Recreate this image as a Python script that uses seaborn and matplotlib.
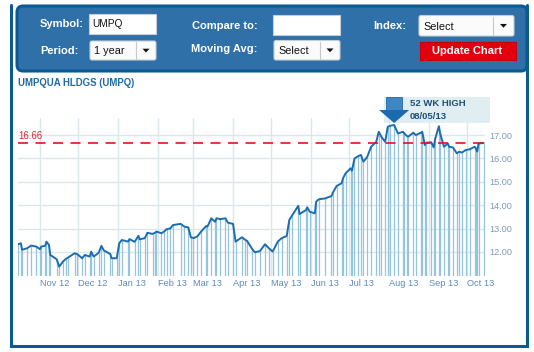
import pandas as pd
import seaborn as sns
import matplotlib.pyplot as plt
import matplotlib.dates as mdates
from matplotlib.patches import FancyBboxPatch, Rectangle, Polygon

# daily closes
dates = ['2012-10-15', '2012-10-17', '2012-10-18', '2012-10-22', '2012-10-25', '2012-10-29',
         '2012-11-01', '2012-11-02', '2012-11-05', '2012-11-06', '2012-11-08', '2012-11-09',
         '2012-11-14', '2012-11-16', '2012-11-19', '2012-11-21', '2012-11-23', '2012-11-28',
         '2012-11-30', '2012-12-04', '2012-12-06', '2012-12-10', '2012-12-11', '2012-12-13',
         '2012-12-17', '2012-12-19', '2012-12-21', '2012-12-26', '2012-12-27', '2012-12-31',
         '2013-01-02', '2013-01-04', '2013-01-09', '2013-01-10', '2013-01-14', '2013-01-17',
         '2013-01-18', '2013-01-22', '2013-01-24', '2013-01-28', '2013-01-30', '2013-01-31',
         '2013-02-04', '2013-02-06', '2013-02-08', '2013-02-11', '2013-02-13', '2013-02-19',
         '2013-02-22', '2013-02-25', '2013-02-27', '2013-03-01', '2013-03-04', '2013-03-07',
         '2013-03-11', '2013-03-12', '2013-03-15', '2013-03-18', '2013-03-19', '2013-03-22',
         '2013-03-26', '2013-03-28', '2013-04-01', '2013-04-03', '2013-04-08', '2013-04-10',
         '2013-04-12', '2013-04-16', '2013-04-18', '2013-04-22', '2013-04-26', '2013-04-29',
         '2013-05-02', '2013-05-06', '2013-05-09', '2013-05-13', '2013-05-15', '2013-05-17',
         '2013-05-22', '2013-05-23', '2013-05-28', '2013-05-29', '2013-05-31', '2013-06-04',
         '2013-06-05', '2013-06-07', '2013-06-12', '2013-06-17', '2013-06-18', '2013-06-21',
         '2013-06-25', '2013-06-26', '2013-06-28', '2013-07-02', '2013-07-03', '2013-07-05',
         '2013-07-08', '2013-07-10', '2013-07-12', '2013-07-15', '2013-07-18', '2013-07-22',
         '2013-07-24', '2013-07-26', '2013-07-29', '2013-07-31', '2013-08-02', '2013-08-05',
         '2013-08-08', '2013-08-12', '2013-08-13', '2013-08-15', '2013-08-16', '2013-08-20',
         '2013-08-22', '2013-08-26', '2013-08-27', '2013-08-29', '2013-08-30', '2013-09-03',
         '2013-09-05', '2013-09-06', '2013-09-09', '2013-09-10', '2013-09-13', '2013-09-16',
         '2013-09-17', '2013-09-20', '2013-09-23', '2013-09-25', '2013-09-27', '2013-09-30',
         '2013-10-03', '2013-10-07', '2013-10-08', '2013-10-09', '2013-10-10', '2013-10-14']
prices = [12.33, 12.37, 12.09, 12.16, 12.27, 12.23,
          12.12, 12.23, 12.26, 12.44, 12.30, 11.87,
          11.69, 11.37, 11.59, 11.69, 11.76, 11.94,
          11.91, 11.73, 11.87, 11.80, 12.01, 11.80,
          11.97, 12.26, 12.06, 11.91, 11.73, 11.73,
          12.37, 12.51, 12.44, 12.55, 12.43, 12.69,
          12.54, 12.59, 12.82, 12.77, 12.82, 12.87,
          12.80, 12.87, 12.97, 13.01, 13.15, 13.20,
          13.08, 13.05, 12.63, 12.59, 12.66, 12.87,
          13.11, 13.08, 13.44, 13.29, 13.44, 13.40,
          13.44, 13.25, 13.20, 12.44, 12.63, 12.54,
          12.47, 12.12, 11.99, 12.03, 12.33, 12.16,
          12.01, 12.44, 12.59, 12.68, 13.37, 13.54,
          13.97, 13.62, 13.79, 13.91, 13.72, 13.65,
          14.15, 14.25, 14.29, 14.39, 14.53, 14.82,
          14.94, 15.15, 15.36, 15.58, 15.47, 16.00,
          16.10, 16.15, 15.86, 16.07, 16.50, 16.71,
          17.14, 16.93, 16.71, 17.35, 17.40, 17.43,
          17.07, 17.14, 17.07, 16.96, 16.93, 17.10,
          17.00, 17.10, 17.14, 16.57, 16.67, 16.69,
          16.47, 16.82, 17.38, 17.07, 16.50, 16.64,
          16.50, 16.47, 16.22, 16.29, 16.25, 16.36,
          16.39, 16.50, 16.43, 16.29, 16.64, 16.66]

last_price = 16.66
high_date = '2013-08-05'
high_label = ['52 WK HIGH', '08/05/13']
title = 'UMPQUA HLDGS (UMPQ)'
month_labels = ['Nov 12', 'Dec 12', 'Jan 13', 'Feb 13', 'Mar 13', 'Apr 13',
                'May 13', 'Jun 13', 'Jul 13', 'Aug 13', 'Sep 13', 'Oct 13']
y_ticks = [12, 13, 14, 15, 16, 17]

sns.set_style('white')
plt.rcParams['font.family'] = ['Liberation Sans', 'DejaVu Sans']

df = pd.DataFrame({'date': pd.to_datetime(dates), 'price': prices})
month_ticks = pd.date_range('2012-11-01', periods=len(month_labels), freq='MS')

W, H = 534, 352
fig = plt.figure(figsize=(W / 100, H / 100), dpi=100)
fig.patch.set_facecolor('white')


def pixel_axes(z):
    # full-figure overlay in pixel coordinates (y down)
    a = fig.add_axes([0, 0, 1, 1])
    a.set_xlim(0, W)
    a.set_ylim(H, 0)
    a.axis('off')
    a.set_zorder(z)
    return a


bg = pixel_axes(0)

dark = '#0c5a94'
bg.plot([10.5, 10.5, 527, 527], [5, 345.5, 345.5, 5], color=dark, lw=2.2,
        solid_joinstyle='miter')

# control panel
bg.add_patch(FancyBboxPatch((17, 6), 510, 65, boxstyle='round,pad=0,rounding_size=6',
                            fc='#2f70a8', ec=dark, lw=2.2))

lab = dict(color='white', fontsize=8, fontweight='bold', va='center', ha='left')
bg.text(40, 24, 'Symbol:', **lab)
bg.text(40, 51, 'Period:', **lab)
bg.text(192, 26, 'Compare to:', **lab)
bg.text(191, 49, 'Moving Avg:', **lab)
bg.text(373, 26, 'Index:', **lab)


def input_box(x0, y0, x1, y1, text=None, fs=7.3):
    bg.add_patch(Rectangle((x0, y0), x1 - x0, y1 - y0, fc='white', ec='#c5ced6', lw=0.8))
    if text:
        bg.text(x0 + 3, (y0 + y1) / 2, text, fontsize=fs, color='#111111', va='center')


def dropdown(x0, y0, x1, y1, sep, text):
    bg.add_patch(FancyBboxPatch((x0, y0), x1 - x0, y1 - y0,
                                boxstyle='round,pad=0,rounding_size=2',
                                fc='#fbfbfb', ec='#c5ced6', lw=0.8))
    bg.plot([sep, sep], [y0 + 1, y1 - 1], color='#c8c8c8', lw=0.8)
    cx, cy = (sep + x1) / 2, (y0 + y1) / 2
    bg.add_patch(Polygon([(cx - 3.5, cy - 1.8), (cx + 3.5, cy - 1.8), (cx, cy + 2)],
                         closed=True, fc='#111111', ec='none'))
    bg.text(x0 + 4, cy + 0.8, text, fontsize=7.8, color='#111111', va='center')


input_box(89, 14, 156, 34, 'UMPQ')
dropdown(90, 41, 156, 60, 136, '1 year')
input_box(273, 14.5, 340, 35)
dropdown(274, 40.5, 340, 60, 320, 'Select')
dropdown(419, 15.5, 514, 36, 493, 'Select')
bg.add_patch(Rectangle((419.5, 42), 96, 18, fc='#e2000f', ec='#c40010', lw=0.8))
bg.text(467.5, 51.5, 'Update Chart', color='white', fontsize=8, fontweight='bold',
        ha='center', va='center')

bg.text(18, 83, title, color='#1f6aa5', fontsize=6.9, fontweight='bold', va='center')

# price chart
ax = fig.add_axes([18 / W, (H - 276) / H, (485 - 18) / W, (276 - 118) / H])
ax.set_zorder(1)
ax.set_facecolor('none')
ymin, ymax = 10.97, 17.73
ax.set_ylim(ymin, ymax)
ax.set_xlim(pd.Timestamp('2012-10-14 19:00'), pd.Timestamp('2013-10-15 02:00'))

ax.vlines(df['date'], ymin, df['price'], color='#94c4de', lw=0.9, zorder=2)
sns.lineplot(data=df, x='date', y='price', ax=ax, color='#1b6db0', lw=1.4, zorder=3)
ax.axhline(last_price, color='#e8121c', lw=1.2, dashes=(6, 4.5), zorder=4)
ax.annotate(f'{last_price:.2f}', xy=(0, last_price), xycoords=('axes fraction', 'data'),
            xytext=(0, 1.2), textcoords='offset points', color='#e0262c', fontsize=6.9,
            va='bottom', ha='left')

ax.set_xticks(month_ticks, month_labels, ha='left')
ax.yaxis.tick_right()
ax.set_yticks(y_ticks, [f'{v:.2f}' for v in y_ticks])
ax.tick_params(axis='x', length=0, pad=2.5, labelsize=6.7, labelcolor='#5f8ab8')
ax.tick_params(axis='y', length=0, pad=3, labelsize=6.6, labelcolor='#7d9bba')
ax.grid(True, color='#dbe7e9', lw=1.0)
ax.set_axisbelow(True)
ax.set_xlabel('')
ax.set_ylabel('')
for s in ax.spines.values():
    s.set_visible(False)

# 52 week high callout, placed from the data point, drawn over the chart
top = pixel_axes(2)
peak = df.loc[df['date'] == pd.Timestamp(high_date), 'price'].iloc[0]
px, py = ax.transData.transform((mdates.date2num(pd.Timestamp(high_date)), peak))
tx, ty = px, H - py - 2
top.add_patch(Rectangle((tx - 10, ty - 26), 106, 26, fc='#e1eef1', ec='none'))
top.add_patch(Rectangle((tx - 8, ty - 26), 16, 14, fc='#3f86c4', ec='#1f6aa8', lw=0.6))
top.add_patch(Polygon([(tx - 15, ty - 13), (tx + 15, ty - 13), (tx, ty)], closed=True,
                      fc='#1c6aae', ec='none'))
top.text(tx + 16, ty - 19.5, high_label[0], color='#1d4f7c', fontsize=6.8,
         fontweight='bold', va='center')
top.text(tx + 16, ty - 7, high_label[1], color='#1d4f7c', fontsize=6.8,
         fontweight='bold', va='center')

fig.savefig('out.png', dpi=100)
